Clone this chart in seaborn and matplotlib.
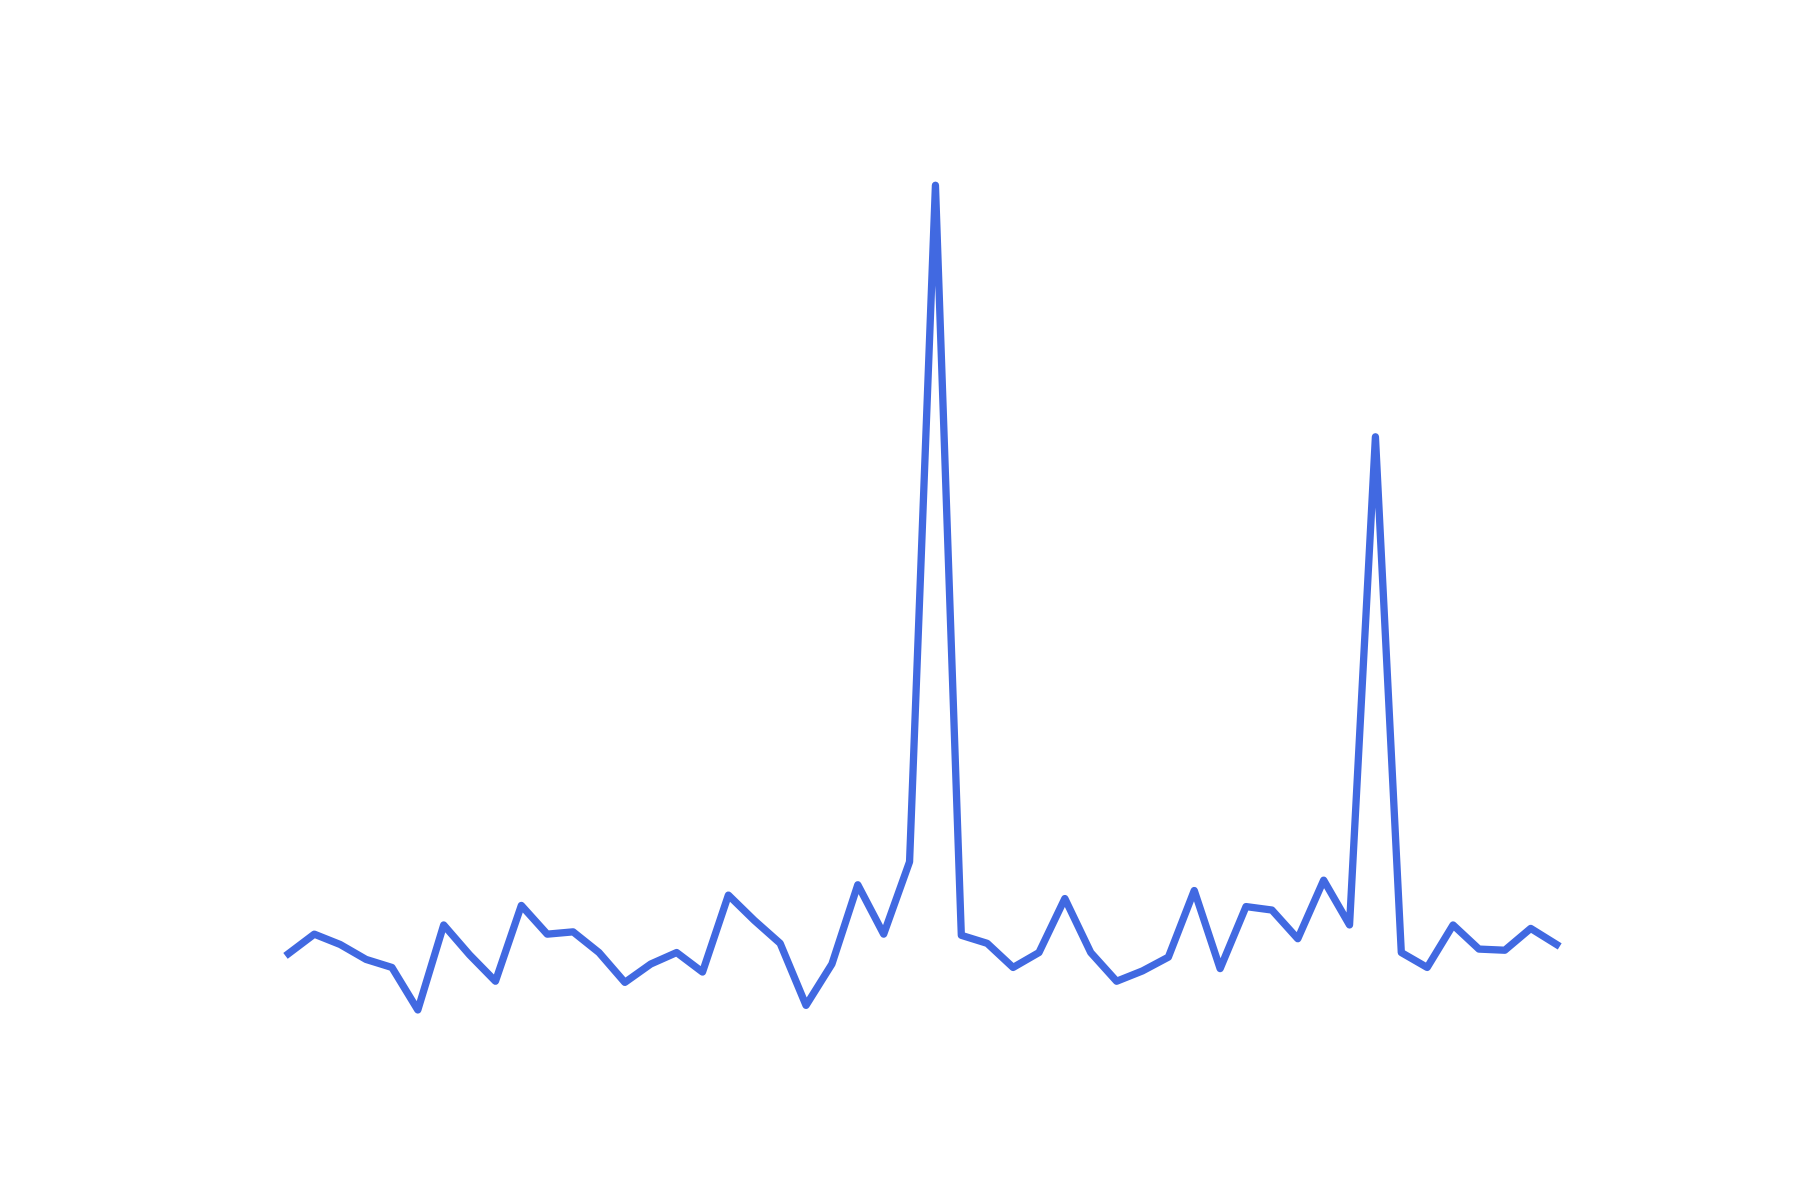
import numpy as np
import pandas as pd
import matplotlib
matplotlib.use("Agg")
import matplotlib.pyplot as plt
import seaborn as sns

# Values (arbitrary units, higher = up)
steps = list(range(50))
values = [215, 232, 223, 210, 203, 166, 240, 214, 191, 257,
          232, 234, 216, 190, 206, 216, 199, 266, 244, 224,
          170, 206, 275, 232, 295, 884, 231, 224, 203, 216,
          263, 216, 191, 200, 212, 270, 202, 256, 253, 228,
          279, 240, 665, 216, 203, 240, 219, 218, 237, 223]

df = pd.DataFrame({"step": steps, "value": values})

sns.set_style("white")
fig, ax = plt.subplots(figsize=(12, 8), dpi=150)
fig.subplots_adjust(left=0.125, right=0.9, bottom=0.124, top=0.88)

sns.lineplot(data=df, x="step", y="value", ax=ax, color="royalblue",
             linewidth=3.5, solid_joinstyle="round", solid_capstyle="projecting")

ax.axis("off")
plt.savefig("out.png", dpi=150)
